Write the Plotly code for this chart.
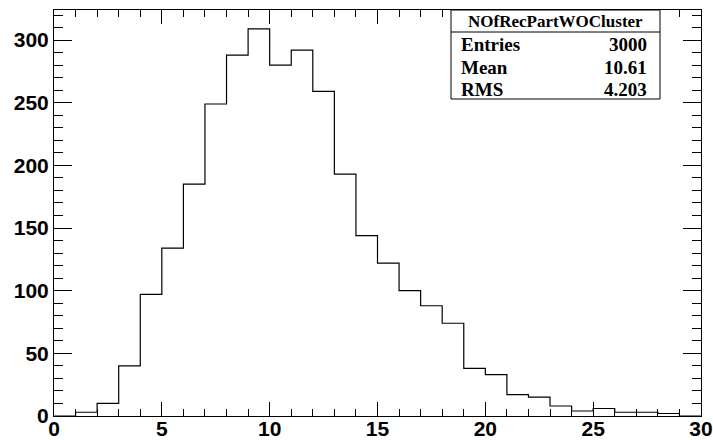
import plotly.graph_objects as go

# Bin edges 0..30 (width 1) and counts per bin
bin_edges = list(range(0, 31))
counts = [0, 3, 10, 40, 97, 134, 185, 249, 288, 309,
          280, 292, 259, 193, 144, 122, 100, 88, 74, 38,
          33, 17, 15, 8, 4, 6, 3, 3, 2, 0]

hist_name = "NOfRecPartWOCluster"
stat_labels = ["Entries", "Mean", "RMS"]
stat_values = ["3000", "10.61", "4.203"]

W, H = 713, 440
ML, MR, MT, MB = 54, 12, 10, 24

fig = go.Figure()
fig.add_trace(go.Scatter(
    x=bin_edges,
    y=counts + [counts[-1]],
    mode="lines",
    line=dict(shape="hv", color="black", width=1.2),
    hoverinfo="skip",
    showlegend=False,
))

tick_font = dict(family="Liberation Sans", size=21, color="black")
common = dict(
    showgrid=False, zeroline=False, automargin=False,
    showline=True, linecolor="black", linewidth=1, mirror="ticks",
    ticks="inside", tickcolor="black", tickwidth=1,
    tickfont=tick_font, ticklabeloverflow="allow",
    tickprefix="<b>", ticksuffix="</b>",
)
fig.update_xaxes(
    range=[0, 30], dtick=5, ticklen=14, ticklabelstandoff=-6,
    minor=dict(dtick=1, ticklen=7, ticks="inside", tickcolor="black"),
    **common,
)
fig.update_yaxes(
    range=[0, 324], dtick=50, ticklen=18,
    minor=dict(dtick=10, ticklen=9, ticks="inside", tickcolor="black"),
    **common,
)

# Statistics box (paper coordinates of the plot area)
pw, ph = W - ML - MR, H - MT - MB
def px(x):
    return (x - ML) / pw
def py(y):
    return (H - MB - y) / ph

bx0, bx1, by_top, by_bot, by_sep = 451, 660, 10, 99, 32
fig.add_shape(type="rect", xref="paper", yref="paper",
              x0=px(bx0), x1=px(bx1), y0=py(by_bot), y1=py(by_top),
              line=dict(color="black", width=1), fillcolor="white", layer="above")
fig.add_shape(type="line", xref="paper", yref="paper",
              x0=px(bx0), x1=px(bx1), y0=py(by_sep), y1=py(by_sep),
              line=dict(color="black", width=1), layer="above")

serif = dict(family="Liberation Serif", color="black")
fig.add_annotation(xref="paper", yref="paper", x=px((bx0 + bx1) / 2), y=py(21),
                   text="<b>%s</b>" % hist_name, showarrow=False,
                   font=dict(size=17, **serif), xanchor="center", yanchor="middle")
row_y = [44, 67, 90]
for lab, val, yy in zip(stat_labels, stat_values, row_y):
    fig.add_annotation(xref="paper", yref="paper", x=px(bx0 + 8), y=py(yy),
                       text="<b>%s</b>" % lab, showarrow=False,
                       font=dict(size=19, **serif), xanchor="left", yanchor="middle")
    fig.add_annotation(xref="paper", yref="paper", x=px(bx1 - 11), y=py(yy),
                       text="<b>%s</b>" % val, showarrow=False,
                       font=dict(size=19, **serif), xanchor="right", yanchor="middle")

fig.update_layout(
    width=W, height=H,
    margin=dict(l=ML, r=MR, t=MT, b=MB, pad=0, autoexpand=False),
    paper_bgcolor="white", plot_bgcolor="white",
    font=dict(family="Liberation Sans", color="black"),
)

fig.write_html("out.html")
